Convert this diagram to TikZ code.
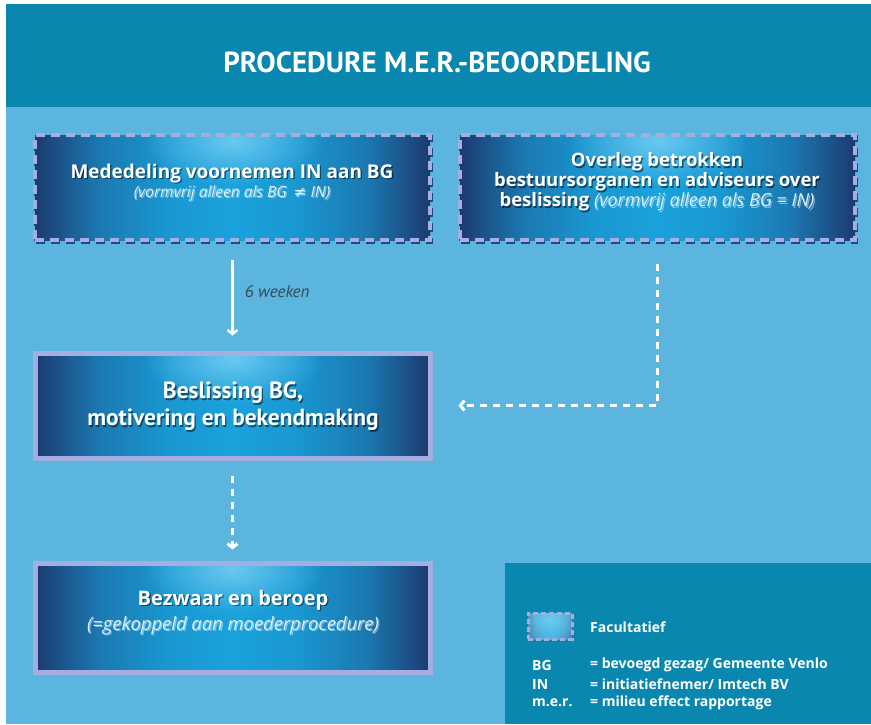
\documentclass[tikz,border=0pt]{standalone}
\usepackage{fontspec}
\setmainfont{Open Sans}
\newfontfamily\ptsans{PT Sans}
\newfontfamily\dejavu{DejaVu Sans}
\usetikzlibrary{arrows.meta,fadings,shadows,calc}
\definecolor{hdr}{HTML}{0A87AE}
\definecolor{bodyblue}{HTML}{5BB5DF}
\definecolor{navy}{HTML}{1C3A70}
\definecolor{boxmid}{HTML}{1AA2DC}
\definecolor{glow}{HTML}{7ED3F5}
\definecolor{lav}{HTML}{A4AEE0}
\definecolor{shadowblue}{HTML}{27457F}
\definecolor{paletext}{HTML}{DDF0FA}
\definecolor{graytext}{HTML}{34495A}
\pgfdeclarehorizontalshading{boxshade}{100bp}{color(0bp)=(navy); color(25bp)=(navy); color(33bp)=(boxmid!60!navy); color(42bp)=(boxmid!90!navy); color(50bp)=(boxmid); color(58bp)=(boxmid!90!navy); color(67bp)=(boxmid!60!navy); color(75bp)=(navy); color(100bp)=(navy)}
\tikzfading[name=glowfade, inner color=transparent!0, outer color=transparent!100]
\newif\ifshad
\newcommand\pal{\ifshad\else\color{paletext}\fi}
\newcommand\boxtext[4]{%
  \node[boxtxt, font=#3, text=black, text opacity=0.5, xshift=1.3pt, yshift=-1.3pt] (#1s) at (#2) {\shadtrue #4};
  \node[boxtxt, font=#3] (#1) at (#2) {#4};}
\tikzset{
  boxfill/.style={inner sep=0pt, minimum width=395pt, minimum height=105pt,
    path picture={
      \shade[shading=boxshade]
        (path picture bounding box.south west) rectangle (path picture bounding box.north east);
      \fill[glow, path fading=glowfade, fill opacity=0.8]
        ($(path picture bounding box.north)+(0,-6pt)$) ellipse [x radius=90pt, y radius=45pt];
    }},
  dashbox/.style={boxfill, draw=lav, line width=4pt, dash pattern=on 9pt off 6pt,
    preaction={draw=shadowblue, line width=4pt, dash pattern=on 9pt off 6pt,
      transform canvas={shift={(1.2pt,-1.5pt)}}}},
  solidbox/.style={boxfill, draw=lav, line width=5pt,
    drop shadow={shadow xshift=2pt, shadow yshift=-2pt, fill=shadowblue, opacity=1}},
  boxtxt/.style={text=white, align=center, inner sep=0pt},
  flowarrow/.style={draw=white, line width=2.5pt, -{Straight Barb[length=4pt,width=10pt]}},
  dasharrow/.style={draw=white, line width=3pt, dash pattern=on 7pt off 6pt,
    -{Straight Barb[length=4pt,width=10pt]}},
  legtxt/.style={text=white, anchor=west, inner sep=0pt, font=\fontsize{14}{16}\selectfont\bfseries},
}
\begin{document}
\begin{tikzpicture}[x=1pt,y=-1pt]
\useasboundingbox (0,0) rectangle (871,724);
\fill[white] (0,0) rectangle (871,724);
\fill[bodyblue] (6,107) rectangle (871,724);
\fill[hdr] (6,4) rectangle (871,107);
\node[text=white, inner sep=0pt, font=\ptsans\bfseries\fontsize{29}{32}\selectfont] (title) at (437,62) {PROCEDURE M.E.R.-BEOORDELING};

% boxes
\node[dashbox] (b1) at (232.5,187.5) {};
\node[dashbox] (b2) at (657.5,187.5) {};
\node[solidbox] (b3) at (232.5,405.5) {};
\node[solidbox, minimum height=109pt] (b4) at (232.5,617.5) {};

% box texts
\boxtext{t1}{232,182.5}{\fontsize{19}{20}\selectfont}{{\bfseries Mededeling voornemen IN aan BG}\\[-1pt]
  {\pal\itshape\fontsize{15.5}{17}\selectfont (vormvrij alleen als BG \,{\dejavu\upshape ≠} IN)}}
\boxtext{t2}{657,182}{\bfseries\fontsize{18.5}{20}\selectfont}{Overleg betrokken\\
  bestuursorganen en adviseurs over\\
  beslissing {\pal\mdseries\itshape\fontsize{18}{20}\selectfont (vormvrij alleen als BG = IN)}}
\boxtext{t3}{233,406.5}{\ptsans\bfseries\fontsize{23.4}{27}\selectfont}{Beslissing BG,\\ motivering en bekendmaking}
\boxtext{t4}{233,612.5}{\fontsize{20}{25}\selectfont}{{\bfseries Bezwaar en beroep}\\
  {\pal\itshape\fontsize{18.4}{20}\selectfont (=gekoppeld aan moederprocedure)}}

% connectors
\draw[flowarrow] ([yshift=-18pt]b1.south) -- ([yshift=15pt]b3.north)
  node[pos=0.42, anchor=west, xshift=11pt, inner sep=0pt, text=graytext,
       font=\ptsans\itshape\fontsize{17}{20}\selectfont] (lbl) {6 weeken};
\draw[dasharrow] ([yshift=-22pt]b2.south) |- ([xshift=26pt]b3.east);
\draw[dasharrow] ([yshift=-15pt]b3.south) -- ([yshift=11pt]b4.north);

% legend
\node[fill=hdr, inner sep=0pt, minimum width=366pt, minimum height=161pt, anchor=north west] (legend) at (505,563) {};
\node[boxfill, minimum width=44pt, minimum height=26pt, draw=lav, line width=3pt,
      dash pattern=on 5pt off 3pt] (legicon) at (550,626) {};
\node[legtxt] (fac) at (590,627) {Facultatief};
\node[legtxt] (k1) at (532,665) {BG};
\node[legtxt] (v1) at (590,665) {= bevoegd gezag/ Gemeente Venlo};
\node[legtxt] (k2) at (532,684) {IN};
\node[legtxt] (v2) at (590,684) {= initiatiefnemer/ Imtech BV};
\node[legtxt] (k3) at (532,703) {m.e.r.};
\node[legtxt] (v3) at (590,703) {= milieu effect rapportage};
\end{tikzpicture}
\end{document}
